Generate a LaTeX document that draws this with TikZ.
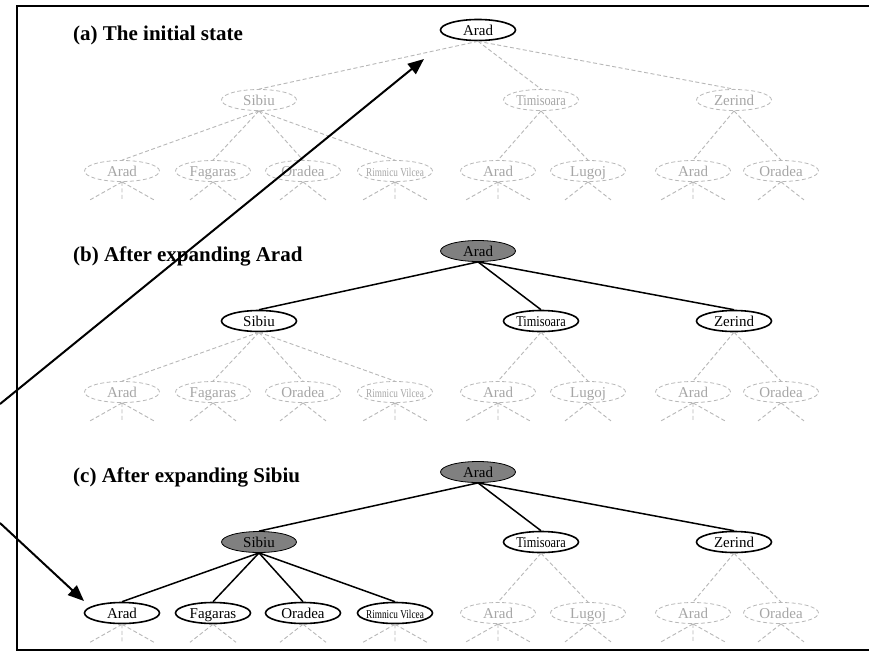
\documentclass[tikz,border=0pt]{standalone}
\usepackage{fontspec}
\usepackage{graphicx}
\setmainfont{Liberation Serif}
\usetikzlibrary{shapes.geometric,arrows.meta}

\definecolor{faintline}{HTML}{B8B8B8}
\definecolor{fainttext}{HTML}{A6A6A6}
\definecolor{donefill}{HTML}{808080}

% fixed-size label box so every ellipse has the same size
\newcommand\lbl[1]{\makebox[40pt]{#1}}
\newcommand\timi{\scalebox{0.82}[1]{Timisoara}}
\newcommand\rimv{\scalebox{0.77}[1]{\fontsize{12pt}{12pt}\selectfont Rimnicu Vilcea}}

\tikzset{
  city/.style={ellipse, minimum width=75pt, minimum height=21pt, inner sep=0pt,
    text height=10pt, text depth=0pt, font=\fontsize{15pt}{15pt}\selectfont},
  faint/.style={city, draw=faintline, line width=0.8pt, dash pattern=on 4pt off 2.5pt,
    text=fainttext},
  open/.style={city, draw=black, line width=1.6pt},
  expanded/.style={city, draw=black, line width=0.8pt, fill=donefill},
  fedge/.style={draw=faintline, line width=0.9pt, dash pattern=on 4pt off 2.5pt},
  sedge/.style={draw=black, line width=1.5pt},
  paneltitle/.style={anchor=base west, inner sep=0pt,
    font=\fontsize{21pt}{21pt}\selectfont\bfseries},
  pointer/.style={draw=black, line width=2pt,
    -{Triangle[length=16pt,width=13pt]}},
}

% three downward stubs below a leaf
\newcommand\stubsthree[1]{%
  \draw[fedge] (#1.south) -- ++(-32,18) (#1.south) -- ++(0,18) (#1.south) -- ++(32,18);}
% two downward stubs below a leaf
\newcommand\stubstwo[1]{%
  \draw[fedge] (#1.south) -- ++(-23,18) (#1.south) -- ++(23,18);}

\begin{document}
\begin{tikzpicture}[x=1pt, y=-1pt]
\useasboundingbox (0,0) rectangle (869,653);
\fill[white] (0,0) rectangle (869,653);

% frame
\draw[line width=1.6pt] (875,6) -- (17,6) -- (17,650) -- (875,650);

% ---------------- (a) ----------------
\begin{scope}
  \node[paneltitle] (ta) at (73,40) {(a) The initial state};
  \node[open]  (aR)  at (478,30)  {\lbl{Arad}};
  \node[faint] (aS)  at (259,100) {\lbl{Sibiu}};
  \node[faint] (aT)  at (541,100) {\lbl{\timi}};
  \node[faint] (aZ)  at (734,100) {\lbl{Zerind}};
  \node[faint] (aS1) at (122,171) {\lbl{Arad}};
  \node[faint] (aS2) at (213,171) {\lbl{Fagaras}};
  \node[faint] (aS3) at (303,171) {\lbl{Oradea}};
  \node[faint] (aS4) at (395,171) {\lbl{\rimv}};
  \node[faint] (aT1) at (498,171) {\lbl{Arad}};
  \node[faint] (aT2) at (588,171) {\lbl{Lugoj}};
  \node[faint] (aZ1) at (693,171) {\lbl{Arad}};
  \node[faint] (aZ2) at (781,171) {\lbl{Oradea}};
  \foreach \c in {aS,aT,aZ} \draw[fedge] (aR.south) -- (\c.north);
  \foreach \c in {aS1,aS2,aS3,aS4} \draw[fedge] (aS.south) -- (\c.north);
  \foreach \c in {aT1,aT2} \draw[fedge] (aT.south) -- (\c.north);
  \foreach \c in {aZ1,aZ2} \draw[fedge] (aZ.south) -- (\c.north);
  \stubsthree{aS1}\stubstwo{aS2}\stubstwo{aS3}\stubsthree{aS4}
  \stubsthree{aT1}\stubstwo{aT2}\stubsthree{aZ1}\stubstwo{aZ2}
\end{scope}

% ---------------- (b) ----------------
\begin{scope}[shift={(0,221)}]
  \node[paneltitle] (tb) at (73,40) {(b) After expanding Arad};
  \node[expanded] (bR)  at (478,30)  {\lbl{Arad}};
  \node[open]  (bS)  at (259,100) {\lbl{Sibiu}};
  \node[open]  (bT)  at (541,100) {\lbl{\timi}};
  \node[open]  (bZ)  at (734,100) {\lbl{Zerind}};
  \node[faint] (bS1) at (122,171) {\lbl{Arad}};
  \node[faint] (bS2) at (213,171) {\lbl{Fagaras}};
  \node[faint] (bS3) at (303,171) {\lbl{Oradea}};
  \node[faint] (bS4) at (395,171) {\lbl{\rimv}};
  \node[faint] (bT1) at (498,171) {\lbl{Arad}};
  \node[faint] (bT2) at (588,171) {\lbl{Lugoj}};
  \node[faint] (bZ1) at (693,171) {\lbl{Arad}};
  \node[faint] (bZ2) at (781,171) {\lbl{Oradea}};
  \foreach \c in {bS,bT,bZ} \draw[sedge] (bR.south) -- (\c.north);
  \foreach \c in {bS1,bS2,bS3,bS4} \draw[fedge] (bS.south) -- (\c.north);
  \foreach \c in {bT1,bT2} \draw[fedge] (bT.south) -- (\c.north);
  \foreach \c in {bZ1,bZ2} \draw[fedge] (bZ.south) -- (\c.north);
  \stubsthree{bS1}\stubstwo{bS2}\stubstwo{bS3}\stubsthree{bS4}
  \stubsthree{bT1}\stubstwo{bT2}\stubsthree{bZ1}\stubstwo{bZ2}
\end{scope}

% ---------------- (c) ----------------
\begin{scope}[shift={(0,442)}]
  \node[paneltitle] (tc) at (73,40) {(c) After expanding Sibiu};
  \node[expanded] (cR)  at (478,30)  {\lbl{Arad}};
  \node[expanded] (cS)  at (259,100) {\lbl{Sibiu}};
  \node[open]  (cT)  at (541,100) {\lbl{\timi}};
  \node[open]  (cZ)  at (734,100) {\lbl{Zerind}};
  \node[open]  (cS1) at (122,171) {\lbl{Arad}};
  \node[open]  (cS2) at (213,171) {\lbl{Fagaras}};
  \node[open]  (cS3) at (303,171) {\lbl{Oradea}};
  \node[open]  (cS4) at (395,171) {\lbl{\rimv}};
  \node[faint] (cT1) at (498,171) {\lbl{Arad}};
  \node[faint] (cT2) at (588,171) {\lbl{Lugoj}};
  \node[faint] (cZ1) at (693,171) {\lbl{Arad}};
  \node[faint] (cZ2) at (781,171) {\lbl{Oradea}};
  \foreach \c in {cS,cT,cZ} \draw[sedge] (cR.south) -- (\c.north);
  \foreach \c in {cS1,cS2,cS3,cS4} \draw[sedge] (cS.south) -- (\c.north);
  \foreach \c in {cT1,cT2} \draw[fedge] (cT.south) -- (\c.north);
  \foreach \c in {cZ1,cZ2} \draw[fedge] (cZ.south) -- (\c.north);
  \stubsthree{cS1}\stubstwo{cS2}\stubstwo{cS3}\stubsthree{cS4}
  \stubsthree{cT1}\stubstwo{cT2}\stubsthree{cZ1}\stubstwo{cZ2}
\end{scope}

% pointer arrows
\coordinate (p1) at (0,404);
\coordinate (p1tip) at (424,59);
\coordinate (p2) at (0,523);
\coordinate (p2tip) at (84,601);
\draw[pointer] (p1) -- (p1tip);
\draw[pointer] (p2) -- (p2tip);
\end{tikzpicture}
\end{document}
